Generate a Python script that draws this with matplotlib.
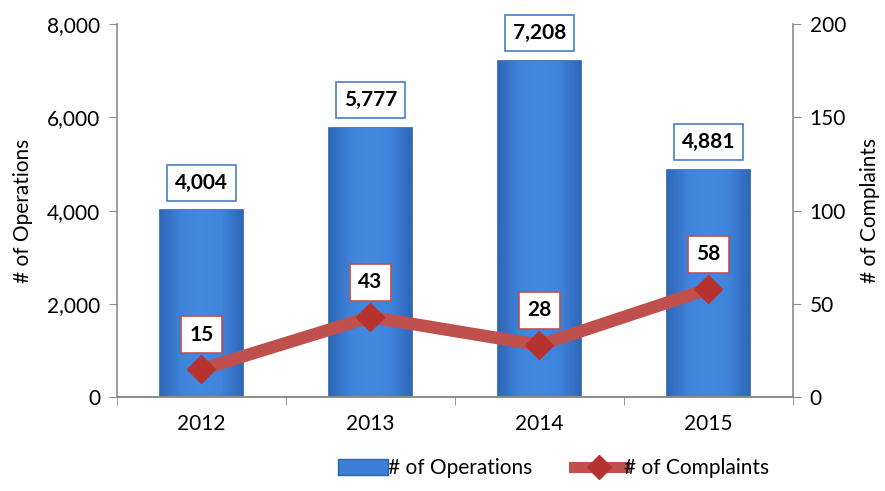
import matplotlib
matplotlib.use("Agg")
import matplotlib.pyplot as plt
import numpy as np
from matplotlib.colors import LinearSegmentedColormap
from matplotlib.lines import Line2D
from matplotlib.patches import Patch

years = ["2012", "2013", "2014", "2015"]
operations = [4004, 5777, 7208, 4881]
complaints = [15, 43, 28, 58]

BLUE = "#3c7fd6"
BLUE_EDGE = "#2b62ad"
RED = "#c0504d"
RED_DARK = "#b5322e"
GRAY = "#8c8c8c"

plt.rcParams["font.family"] = ["Lato", "DejaVu Sans"]

fig = plt.figure(figsize=(8.85, 4.91), dpi=100)
ax = fig.add_axes([0.132, 0.191, 0.764, 0.760])
ax2 = ax.twinx()

x = list(range(len(years)))
bars = ax.bar(x, operations, width=0.49, color=BLUE, edgecolor=BLUE_EDGE,
              linewidth=1.2, zorder=2)

# soft side shading on the bars
shade = LinearSegmentedColormap.from_list(
    "shade", ["#2f68b8", "#3f83dc", "#4489e0", "#3f83dc", "#2f68b8"])
grad = np.linspace(0, 1, 64).reshape(1, -1)
for b in bars:
    bx, by = b.get_x(), b.get_y()
    im = ax.imshow(grad, cmap=shade, aspect="auto", zorder=2.1,
                   extent=(bx, bx + b.get_width(), by, by + b.get_height()))
    im.set_clip_path(b)
ax.set_aspect("auto")

for xi, v in zip(x, operations):
    ax.annotate(f"{v:,}", (xi, v), xytext=(0, 20), textcoords="offset points",
                ha="center", va="center", fontsize=15, fontweight="bold", zorder=4,
                bbox=dict(boxstyle="square,pad=0.38", fc="white", ec="#4a7ec8", lw=1.2))

ax2.plot(x, complaints, color=RED, lw=9, marker="D", markersize=14,
         markerfacecolor=RED_DARK, markeredgecolor=RED_DARK, zorder=3)
for xi, v in zip(x, complaints):
    ax2.annotate(f"{v}", (xi, v), xytext=(0, 25), textcoords="offset points",
                 ha="center", va="center", fontsize=15, fontweight="bold",
                 bbox=dict(boxstyle="square,pad=0.4", fc="white", ec=RED, lw=1.2))

ax.set_xlim(-0.5, 3.5)
ax.set_ylim(0, 8000)
ax2.set_ylim(0, 200)
ax.set_yticks([0, 2000, 4000, 6000, 8000])
ax.set_yticklabels([f"{t:,}" for t in [0, 2000, 4000, 6000, 8000]])
ax2.set_yticks([0, 50, 100, 150, 200])
ax.set_xticks(x)
ax.set_xticklabels(years)
ax.set_xticks([-0.5, 0.5, 1.5, 2.5, 3.5], minor=True)
ax.tick_params(axis="x", which="major", length=0, pad=12, labelsize=15)
ax.tick_params(axis="x", which="minor", length=6, color=GRAY, direction="out")
ax.tick_params(axis="y", length=6, color=GRAY, labelsize=15, pad=6)
ax2.tick_params(axis="y", length=6, color=GRAY, labelsize=15, pad=6)

for a in (ax, ax2):
    a.spines["top"].set_visible(False)
    for s in ("left", "right", "bottom"):
        a.spines[s].set_color(GRAY)
        a.spines[s].set_linewidth(1.2)
ax.spines["right"].set_visible(False)
ax2.spines["left"].set_visible(False)

ax.set_ylabel("# of Operations", fontsize=15, labelpad=10)
ax2.set_ylabel("# of Complaints", fontsize=15, labelpad=10)

handles = [Patch(facecolor=BLUE, edgecolor=BLUE_EDGE),
           Line2D([0], [0], color=RED, lw=8, marker="D", markersize=12,
                  markerfacecolor=RED_DARK, markeredgecolor=RED_DARK)]
fig.legend(handles, ["# of Operations", "# of Complaints"], loc="center",
           bbox_to_anchor=(0.625, 0.046), ncol=2, frameon=False, fontsize=15,
           handlelength=2.4, handleheight=0.8, handletextpad=0.0, columnspacing=2.0)

fig.savefig("out.png", dpi=100)
